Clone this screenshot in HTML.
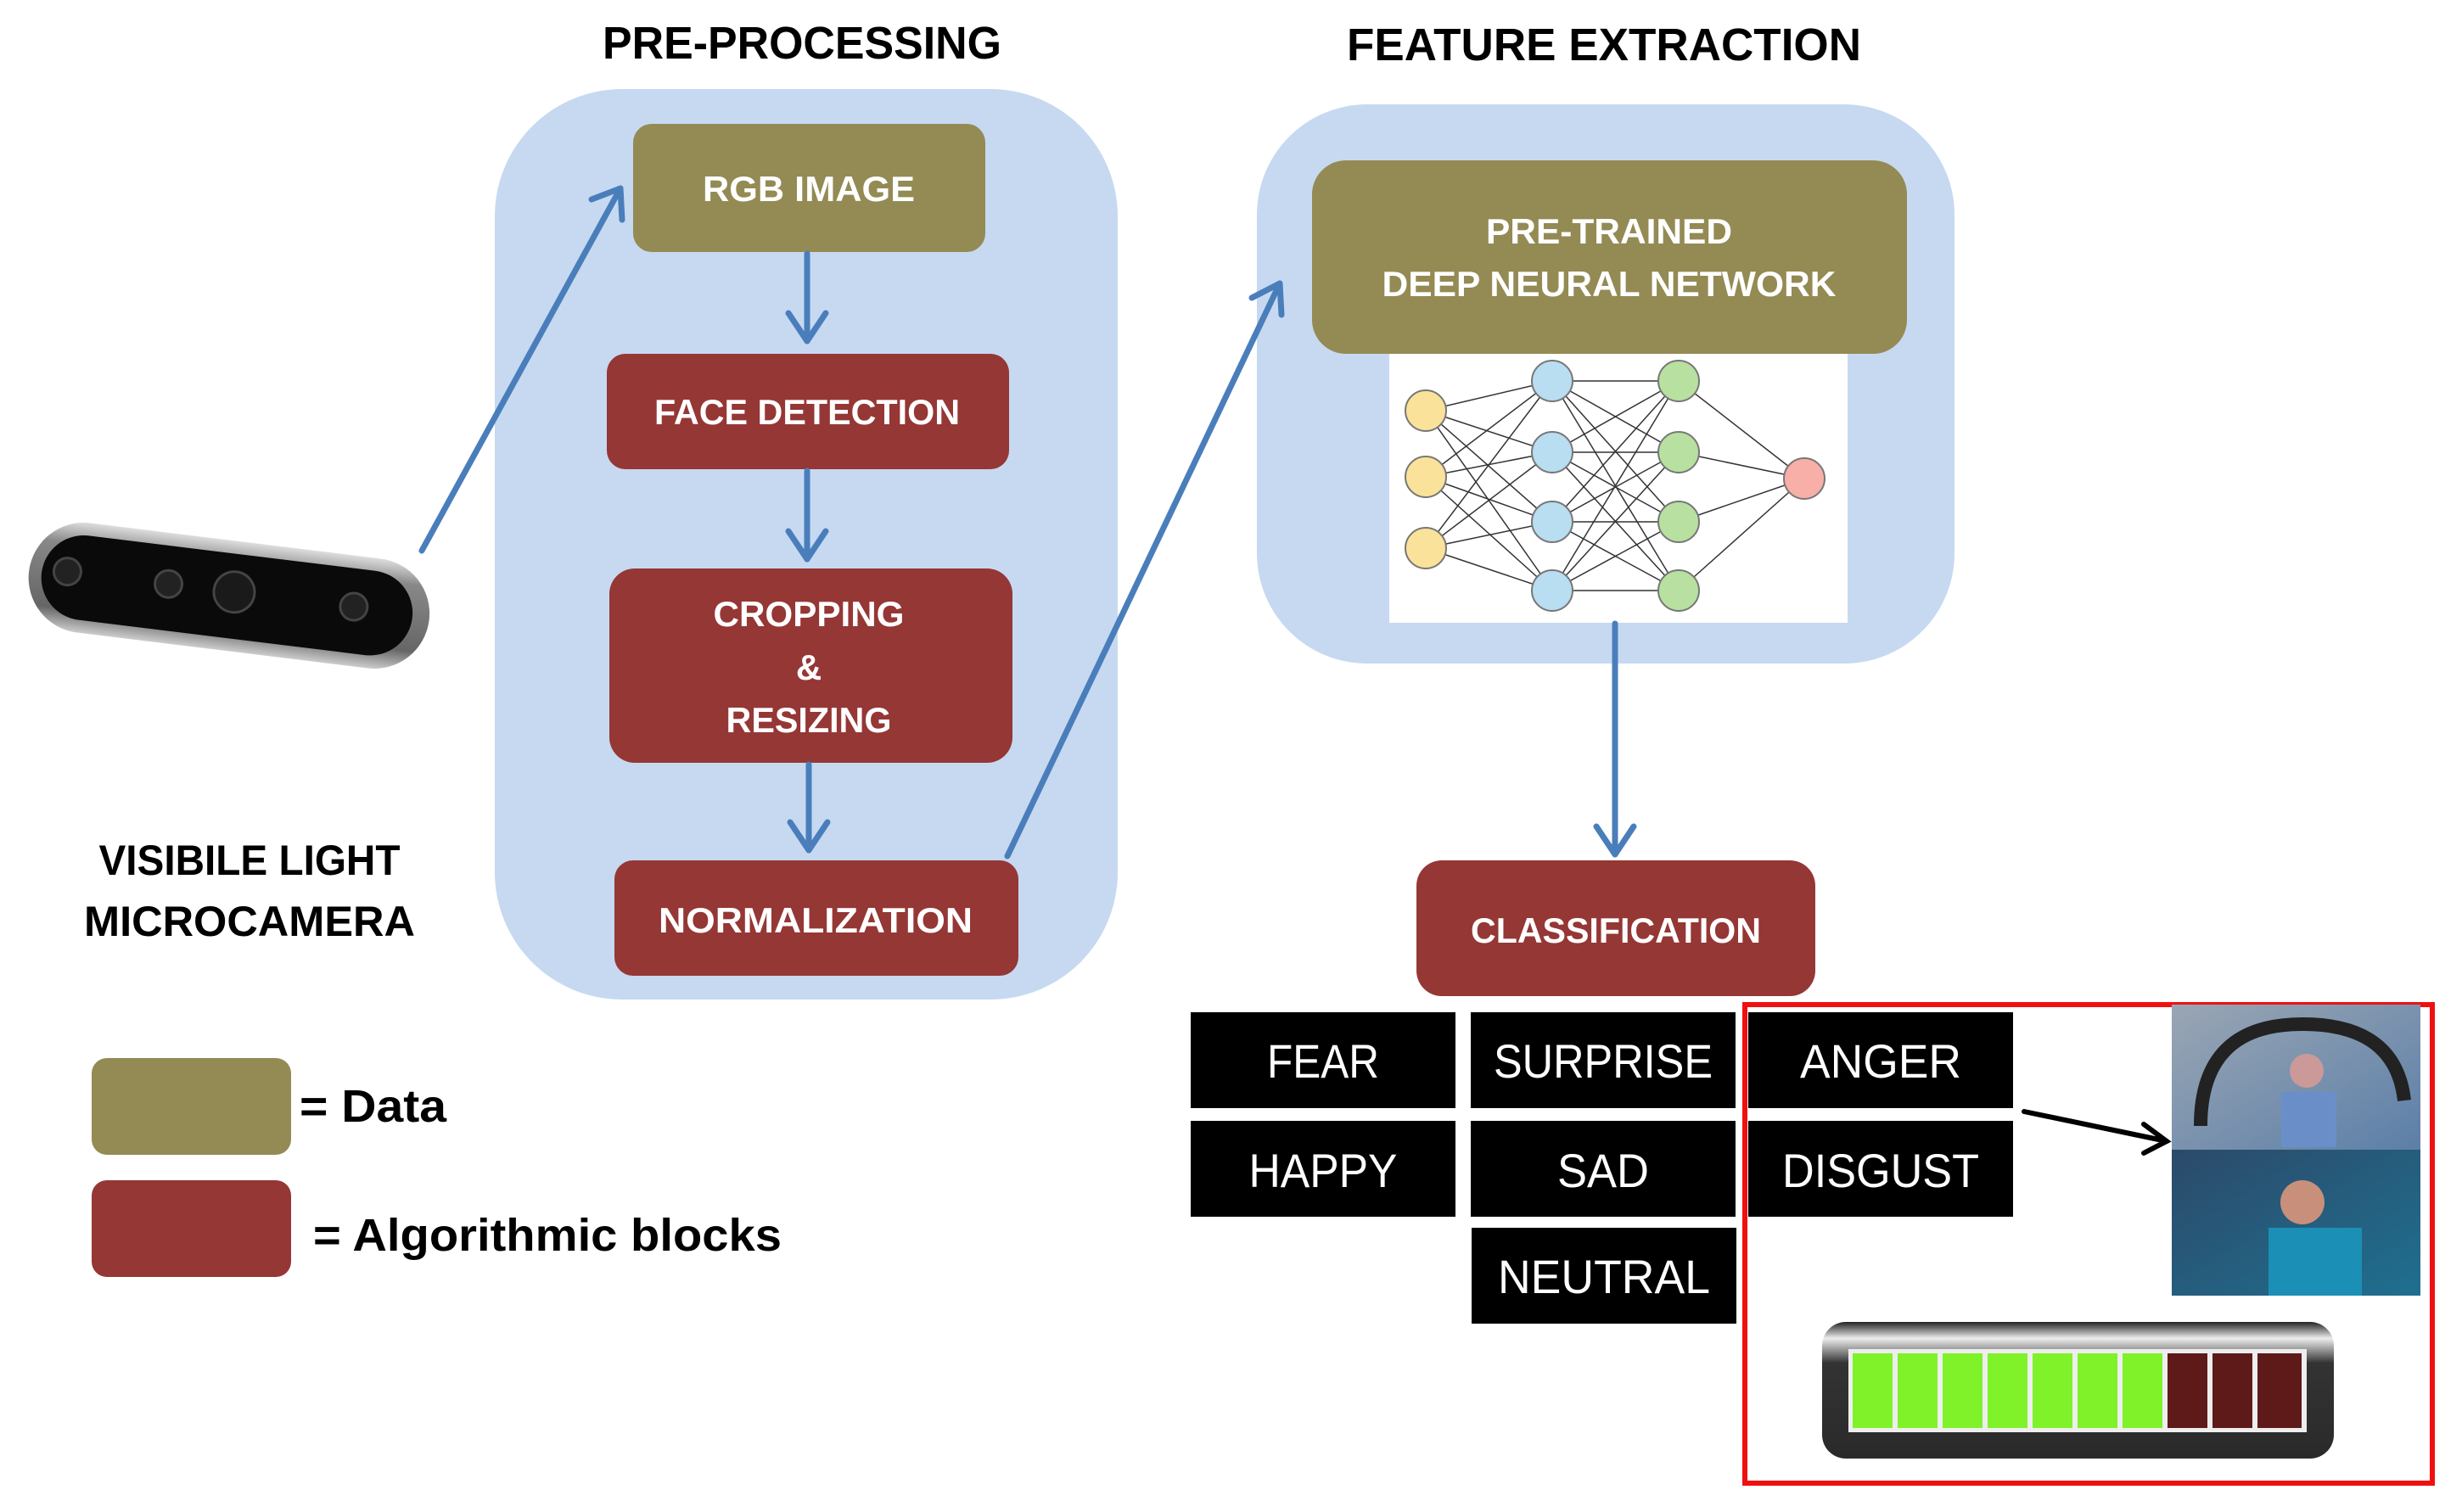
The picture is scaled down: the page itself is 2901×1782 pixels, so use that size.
<!DOCTYPE html>
<html><head><meta charset="utf-8"><style>html,body{margin:0;padding:0;background:#fff}svg{display:block}</style></head>
<body>
<svg width="2901" height="1782" viewBox="0 0 2901 1782" xmlns="http://www.w3.org/2000/svg" font-family="Liberation Sans, sans-serif">
<defs>
<linearGradient id="cam" x1="0" y1="0" x2="0" y2="1"><stop offset="0" stop-color="#ddd"/><stop offset="0.2" stop-color="#888"/><stop offset="0.8" stop-color="#666"/><stop offset="1" stop-color="#ccc"/></linearGradient>
<linearGradient id="bat" x1="0" y1="0" x2="0" y2="1"><stop offset="0" stop-color="#222"/><stop offset="0.12" stop-color="#eee"/><stop offset="0.3" stop-color="#333"/><stop offset="1" stop-color="#2a2a2a"/></linearGradient>
<linearGradient id="ph1" x1="0" y1="0" x2="1" y2="1"><stop offset="0" stop-color="#9aa6b4"/><stop offset="1" stop-color="#5c7fa8"/></linearGradient>
<linearGradient id="ph2" x1="0" y1="0" x2="1" y2="1"><stop offset="0" stop-color="#2c4a6a"/><stop offset="1" stop-color="#1f6f8f"/></linearGradient>
</defs>
<g transform="translate(-7,-3)">
<g font-weight="bold" fill="#000" font-size="54" text-anchor="middle">
<text x="952" y="72" textLength="470" lengthAdjust="spacingAndGlyphs">PRE-PROCESSING</text>
<text x="1897" y="74" textLength="606" lengthAdjust="spacingAndGlyphs">FEATURE EXTRACTION</text>
</g>
<rect x="590" y="108" width="734" height="1073" rx="150" fill="#C6D9F1"/>
<rect x="1488" y="126" width="822" height="659" rx="130" fill="#C6D9F1"/>
<g font-weight="bold" fill="#fff" font-size="42" text-anchor="middle">
<rect x="753" y="149" width="415" height="151" rx="22" fill="#948A54"/>
<text x="960" y="240" fill="#fff" textLength="250" lengthAdjust="spacingAndGlyphs">RGB IMAGE</text>
<rect x="722" y="420" width="474" height="136" rx="22" fill="#953735"/>
<text x="958" y="503" fill="#fff" textLength="360" lengthAdjust="spacingAndGlyphs">FACE DETECTION</text>
<rect x="725" y="673" width="475" height="229" rx="30" fill="#953735"/>
<text x="960" y="741" fill="#fff" textLength="225" lengthAdjust="spacingAndGlyphs">CROPPING</text>
<text x="960" y="804" fill="#fff">&amp;</text>
<text x="960" y="866" fill="#fff" textLength="195" lengthAdjust="spacingAndGlyphs">RESIZING</text>
<rect x="731" y="1017" width="476" height="136" rx="22" fill="#953735"/>
<text x="968" y="1102" fill="#fff" textLength="370" lengthAdjust="spacingAndGlyphs">NORMALIZATION</text>
<rect x="1553" y="192" width="701" height="228" rx="40" fill="#948A54"/>
<text x="1903" y="290" fill="#fff" textLength="290" lengthAdjust="spacingAndGlyphs">PRE-TRAINED</text>
<text x="1903" y="352" fill="#fff" textLength="535" lengthAdjust="spacingAndGlyphs">DEEP NEURAL NETWORK</text>
<rect x="1676" y="1017" width="470" height="160" rx="30" fill="#953735"/>
<text x="1911" y="1114" fill="#fff" textLength="342" lengthAdjust="spacingAndGlyphs">CLASSIFICATION</text>
</g>
<rect x="1644" y="420" width="540" height="317" fill="#fff"/>
<g stroke="#333" stroke-width="1.5">
<line x1="1687" y1="487" x2="1836" y2="452"/><line x1="1687" y1="487" x2="1836" y2="536"/><line x1="1687" y1="487" x2="1836" y2="618"/><line x1="1687" y1="487" x2="1836" y2="699"/>
<line x1="1687" y1="565" x2="1836" y2="452"/><line x1="1687" y1="565" x2="1836" y2="536"/><line x1="1687" y1="565" x2="1836" y2="618"/><line x1="1687" y1="565" x2="1836" y2="699"/>
<line x1="1687" y1="649" x2="1836" y2="452"/><line x1="1687" y1="649" x2="1836" y2="536"/><line x1="1687" y1="649" x2="1836" y2="618"/><line x1="1687" y1="649" x2="1836" y2="699"/>
<line x1="1836" y1="452" x2="1985" y2="452"/><line x1="1836" y1="452" x2="1985" y2="536"/><line x1="1836" y1="452" x2="1985" y2="618"/><line x1="1836" y1="452" x2="1985" y2="699"/>
<line x1="1836" y1="536" x2="1985" y2="452"/><line x1="1836" y1="536" x2="1985" y2="536"/><line x1="1836" y1="536" x2="1985" y2="618"/><line x1="1836" y1="536" x2="1985" y2="699"/>
<line x1="1836" y1="618" x2="1985" y2="452"/><line x1="1836" y1="618" x2="1985" y2="536"/><line x1="1836" y1="618" x2="1985" y2="618"/><line x1="1836" y1="618" x2="1985" y2="699"/>
<line x1="1836" y1="699" x2="1985" y2="452"/><line x1="1836" y1="699" x2="1985" y2="536"/><line x1="1836" y1="699" x2="1985" y2="618"/><line x1="1836" y1="699" x2="1985" y2="699"/>
<line x1="1985" y1="452" x2="2133" y2="567"/><line x1="1985" y1="536" x2="2133" y2="567"/><line x1="1985" y1="618" x2="2133" y2="567"/><line x1="1985" y1="699" x2="2133" y2="567"/>
</g>
<g stroke="#777" stroke-width="2">
<circle cx="1687" cy="487" r="24" fill="#FBE29A"/><circle cx="1687" cy="565" r="24" fill="#FBE29A"/><circle cx="1687" cy="649" r="24" fill="#FBE29A"/>
<circle cx="1836" cy="452" r="24" fill="#B9DDF1"/><circle cx="1836" cy="536" r="24" fill="#B9DDF1"/><circle cx="1836" cy="618" r="24" fill="#B9DDF1"/><circle cx="1836" cy="699" r="24" fill="#B9DDF1"/>
<circle cx="1985" cy="452" r="24" fill="#B8E0A0"/><circle cx="1985" cy="536" r="24" fill="#B8E0A0"/><circle cx="1985" cy="618" r="24" fill="#B8E0A0"/><circle cx="1985" cy="699" r="24" fill="#B8E0A0"/>
<circle cx="2133" cy="567" r="24" fill="#F7AFA8"/>
</g>
<g stroke="#4A7EBB" stroke-width="7" fill="none" stroke-linecap="round" stroke-linejoin="round">
<line x1="958" y1="302" x2="958" y2="405"/><polyline points="936,372 958,405 980,372"/>
<line x1="958" y1="558" x2="958" y2="662"/><polyline points="936,629 958,662 980,629"/>
<line x1="960" y1="904" x2="960" y2="1005"/><polyline points="938,972 960,1005 982,972"/>
<line x1="1910" y1="738" x2="1910" y2="1010"/><polyline points="1888,977 1910,1010 1932,977"/>
<line x1="504" y1="652" x2="738" y2="225"/><polyline points="704,238 738,225 740,262"/>
<line x1="1194" y1="1012" x2="1515" y2="337"/><polyline points="1482,354 1515,337 1517,374"/>
</g>
<g transform="rotate(7 277 700)">
<rect x="40" y="640" width="475" height="130" rx="65" fill="url(#cam)"/>
<rect x="55" y="655" width="440" height="100" rx="50" fill="#0a0a0a"/>
<circle cx="85" cy="700" r="16" fill="#222" stroke="#444" stroke-width="3"/>
<circle cx="205" cy="700" r="16" fill="#222" stroke="#444" stroke-width="3"/>
<circle cx="283" cy="700" r="24" fill="#1a1a1a" stroke="#444" stroke-width="3"/>
<circle cx="425" cy="700" r="16" fill="#222" stroke="#444" stroke-width="3"/>
</g>
<g font-weight="bold" font-size="50" text-anchor="middle">
<text x="301" y="1034" textLength="355" lengthAdjust="spacingAndGlyphs">VISIBILE LIGHT</text>
<text x="301" y="1106" textLength="390" lengthAdjust="spacingAndGlyphs">MICROCAMERA</text>
</g>
<rect x="115" y="1250" width="235" height="114" rx="18" fill="#948A54"/>
<rect x="115" y="1394" width="235" height="114" rx="18" fill="#953735"/>
<g font-weight="bold" font-size="54">
<text x="360" y="1325" textLength="173" lengthAdjust="spacingAndGlyphs">= Data</text>
<text x="376" y="1477" textLength="552" lengthAdjust="spacingAndGlyphs">= Algorithmic blocks</text>
</g>
<g fill="#000">
<rect x="1410" y="1196" width="312" height="113"/><rect x="1740" y="1196" width="312" height="113"/><rect x="2067" y="1196" width="312" height="113"/>
<rect x="1410" y="1324" width="312" height="113"/><rect x="1740" y="1324" width="312" height="113"/><rect x="2067" y="1324" width="312" height="113"/>
<rect x="1741" y="1450" width="312" height="113"/>
</g>
<g fill="#fff" font-size="56" text-anchor="middle">
<text x="1566" y="1273" textLength="132" lengthAdjust="spacingAndGlyphs">FEAR</text>
<text x="1896" y="1273" textLength="258" lengthAdjust="spacingAndGlyphs">SURPRISE</text>
<text x="2223" y="1273" textLength="190" lengthAdjust="spacingAndGlyphs">ANGER</text>
<text x="1566" y="1402" textLength="175" lengthAdjust="spacingAndGlyphs">HAPPY</text>
<text x="1896" y="1402" textLength="108" lengthAdjust="spacingAndGlyphs">SAD</text>
<text x="2223" y="1402" textLength="232" lengthAdjust="spacingAndGlyphs">DISGUST</text>
<text x="1897" y="1527" textLength="250" lengthAdjust="spacingAndGlyphs">NEUTRAL</text>
</g>
<rect x="2063" y="1187" width="810" height="564" fill="none" stroke="#F01010" stroke-width="6"/>
<rect x="2566" y="1187" width="293" height="171" fill="url(#ph1)"/>
<rect x="2566" y="1358" width="293" height="172" fill="url(#ph2)"/>
<path d="M2600 1330 Q2600 1210 2720 1210 Q2830 1210 2840 1300" fill="none" stroke="#222" stroke-width="16"/>
<circle cx="2725" cy="1265" r="20" fill="#c99"/>
<rect x="2695" y="1290" width="65" height="65" fill="#6a8fc8"/>
<circle cx="2720" cy="1420" r="26" fill="#c8907a"/>
<rect x="2680" y="1450" width="110" height="80" fill="#1b8fb5"/>
<g stroke="#000" stroke-width="6" fill="none" stroke-linecap="round">
<line x1="2392" y1="1313" x2="2560" y2="1348"/><polyline points="2533,1328 2560,1348 2533,1362"/>
</g>
<rect x="2154" y="1561" width="603" height="161" rx="28" fill="url(#bat)"/>
<rect x="2185" y="1593" width="540" height="98" fill="#eee"/>
<g fill="#7FF22A">
<rect x="2190" y="1598" width="47" height="88"/><rect x="2243" y="1598" width="47" height="88"/><rect x="2296" y="1598" width="47" height="88"/><rect x="2349" y="1598" width="47" height="88"/><rect x="2402" y="1598" width="47" height="88"/><rect x="2455" y="1598" width="47" height="88"/><rect x="2508" y="1598" width="47" height="88"/>
</g>
<g fill="#5E1A19">
<rect x="2561" y="1598" width="47" height="88"/><rect x="2614" y="1598" width="47" height="88"/><rect x="2667" y="1598" width="52" height="88"/>
</g>
</g>
</svg>
</body></html>
